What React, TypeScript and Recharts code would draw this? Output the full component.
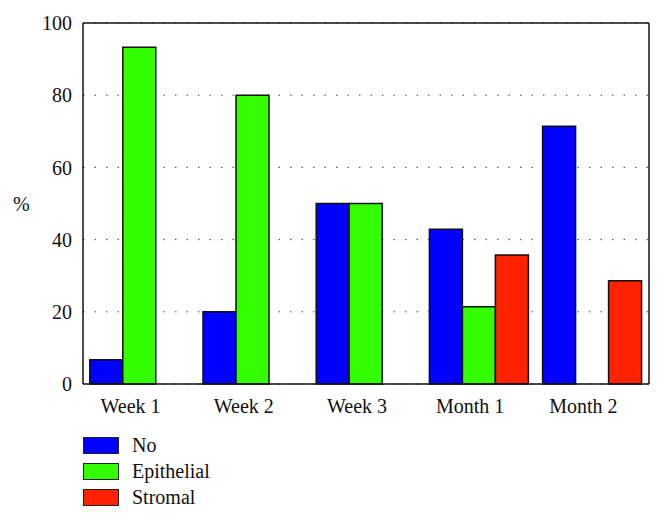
import { Bar, BarChart, CartesianGrid, XAxis, YAxis } from "recharts";

const periods = ["Week 1", "Week 2", "Week 3", "Month 1", "Month 2"];
const noValues = [6.7, 20, 50, 42.9, 71.4];
const epithelialValues = [93.3, 80, 50, 21.4, 0];
const stromalValues = [0, 0, 0, 35.7, 28.6];
const yTicks = [0, 20, 40, 60, 80, 100];

const SERIES = [
    { key: "no", name: "No", color: "#0000FF" },
    { key: "epithelial", name: "Epithelial", color: "#33FF00" },
    { key: "stromal", name: "Stromal", color: "#FF2200" },
];

const FONT = "Liberation Serif, DejaVu Serif, serif";

const data = periods.map((period, i) => ({
    period,
    no: noValues[i],
    epithelial: epithelialValues[i],
    stromal: stromalValues[i],
}));

const XTick = ({ x, y, payload }: any) => (
    <text x={x - 9} y={y + 21} textAnchor="middle" style={{ fontFamily: FONT, fontSize: 20 }} fill="#111">
        {payload.value}
    </text>
);

const LegendBox = () => (
    <div style={{ position: "absolute", left: 83, top: 432, fontFamily: FONT, fontSize: 20, color: "#111" }}>
        {SERIES.map((s) => (
            <div key={s.key} style={{ display: "flex", alignItems: "center", height: 26 }}>
                <div style={{ width: 34, height: 15, background: s.color, border: "1px solid #222", marginRight: 13 }} />
                <span>{s.name}</span>
            </div>
        ))}
    </div>
);

export default function App() {
    return (
        <div style={{ position: "absolute", left: 0, top: 0, width: 664, height: 526, background: "#fff", fontFamily: FONT }}>
            <BarChart
                width={664}
                height={526}
                data={data}
                margin={{ top: 22, right: 14, left: 0, bottom: 112 }}
                barGap={0}
                barCategoryGap="6%"
                style={{ fontFamily: FONT }}
            >
                <CartesianGrid vertical={false} stroke="#444" strokeDasharray="1.5 10" />
                <XAxis dataKey="period" tickLine={false} axisLine={{ stroke: "#111", strokeWidth: 1.5 }} tick={<XTick />} height={30} />
                <XAxis xAxisId="top" orientation="top" dataKey="period" tick={false} tickLine={false} axisLine={{ stroke: "#111", strokeWidth: 1.5 }} height={1} />
                <YAxis
                    domain={[0, 100]}
                    ticks={yTicks}
                    width={83}
                    tickLine={false}
                    tickSize={0}
                    tickMargin={11}
                    axisLine={{ stroke: "#111", strokeWidth: 1.5 }}
                    tick={{ style: { fontFamily: FONT, fontSize: 20 }, fill: "#111" }}
                    label={{ value: "%", position: "insideLeft", offset: 13, style: { fontFamily: FONT, fontSize: 20 }, fill: "#111" }}
                />
                <YAxis yAxisId="right" orientation="right" domain={[0, 100]} tick={false} tickLine={false} axisLine={{ stroke: "#111", strokeWidth: 1.5 }} width={1} />
                {SERIES.map((s) => (
                    <Bar key={s.key} dataKey={s.key} name={s.name} fill={s.color} stroke="#111" strokeWidth={1.5} isAnimationActive={false} />
                ))}
            </BarChart>
            <LegendBox />
        </div>
    );
}
